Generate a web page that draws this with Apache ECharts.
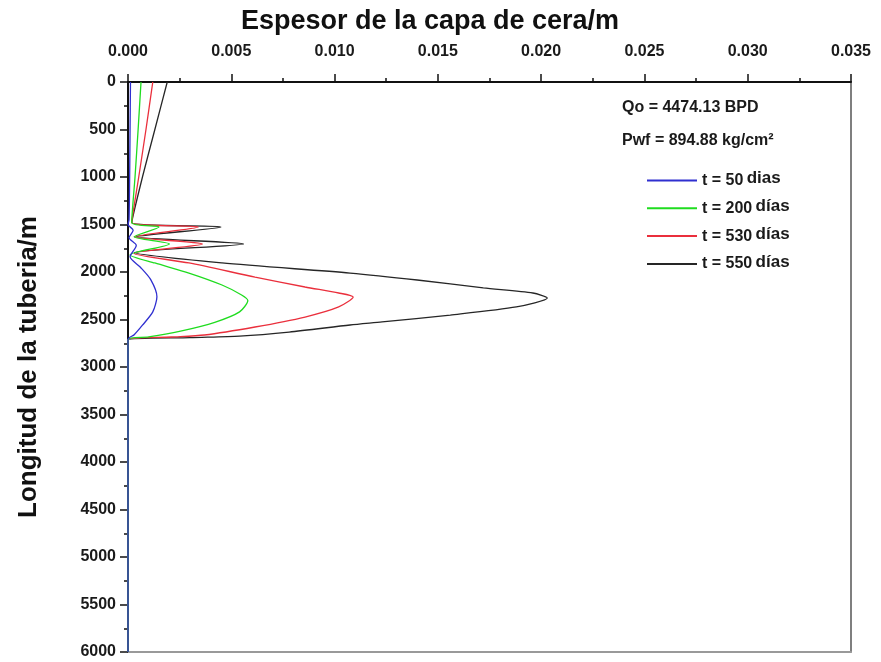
<!DOCTYPE html>
<html>
<head>
<meta charset="utf-8">
<script src="https://cdn.jsdelivr.net/npm/echarts@6/dist/echarts.min.js"></script>
<style>
html,body{margin:0;padding:0;background:#fff;}
#chart{width:881px;height:662px;}
</style>
</head>
<body>
<div id="chart"></div>
<script>
// ---- data (x = wax layer thickness in m, y = pipe length in m) ----
const seriesNames = ['t = 50', 't = 200', 't = 530', 't = 550'];
const unitNames = ['dias', 'días', 'días', 'días'];

const depth50 = [0, 500, 1000, 1450, 1500, 1560, 1640, 1720, 1840, 1950, 2080, 2260, 2420, 2560, 2660, 2710, 3000, 4000, 5000, 6000];
const thick50 = [0.00012, 0.0001, 0.00008, 0.00005, 0, 0.00025, 0.00005, 0.0004, 0.0001, 0.0006, 0.0011, 0.0014, 0.0012, 0.0007, 0.0003, 0, 0, 0, 0, 0];

const depth200 = [0, 500, 1000, 1480, 1526, 1630, 1705, 1820, 1905, 2011, 2137, 2242, 2300, 2420, 2530, 2620, 2684, 2710, 6000];
const thick200 = [0.00063, 0.00049, 0.00034, 0.00018, 0.0015, 0.0003, 0.002, 0.0001, 0.0013, 0.00295, 0.00455, 0.0055, 0.0058, 0.0054, 0.0042, 0.0026, 0.001, 0, 0];

const depth530 = [0, 500, 1000, 1480, 1526, 1630, 1705, 1805, 1905, 2053, 2158, 2221, 2263, 2368, 2474, 2579, 2663, 2684, 2710, 6000];
const thick530 = [0.0012, 0.00087, 0.00052, 0.00018, 0.0034, 0.0003, 0.0036, 0.0003, 0.00295, 0.00615, 0.00857, 0.0102, 0.0109, 0.0102, 0.00857, 0.00615, 0.0037, 0.0021, 0, 0];

const depth550 = [0, 500, 1000, 1480, 1526, 1630, 1705, 1795, 1905, 2011, 2084, 2168, 2221, 2274, 2368, 2453, 2526, 2558, 2632, 2674, 2690, 2716, 6000];
const thick550 = [0.0019, 0.0013, 0.0007, 0.00018, 0.0045, 0.0004, 0.0056, 0.0003, 0.00455, 0.01075, 0.014, 0.0172, 0.0196, 0.0203, 0.0188, 0.0156, 0.0123, 0.01075, 0.0078, 0.0054, 0.003, 0, 0];

const xTicks = ['0.000', '0.005', '0.010', '0.015', '0.020', '0.025', '0.030', '0.035'];
const yTicks = [0, 500, 1000, 1500, 2000, 2500, 3000, 3500, 4000, 4500, 5000, 5500, 6000];

const infoLines = ['Qo = 4474.13 BPD', 'Pwf = 894.88 kg/cm²'];

// ---- build ----
const FONT = 'Arial, "Liberation Sans", sans-serif';
function pairs(xs, ys) { return xs.map((x, i) => [x, ys[i]]); }
const allDepth = [depth50, depth200, depth530, depth550];
const allThick = [thick50, thick200, thick530, thick550];
const colors = ['#2f2fd0', '#1fdc1f', '#ea2f3c', '#262626'];
const zs = [6, 5, 4, 3];

const chart = echarts.init(document.getElementById('chart'));
const option = {
  backgroundColor: '#ffffff',
  animation: false,
  title: {
    text: 'Espesor de la capa de cera/m',
    left: 425, top: 3, textAlign: 'center',
    textStyle: { fontFamily: FONT, fontWeight: 'bold', fontSize: 27, color: '#111' }
  },
  grid: { left: 128, right: 30, top: 82, bottom: 10, containLabel: false },
  legend: {
    data: seriesNames,
    orient: 'vertical',
    left: 646, top: 170,
    itemWidth: 50, itemHeight: 14, itemGap: 9.3,
    padding: 0,
    itemStyle: { opacity: 0 },
    formatter: function (name) {
      const i = seriesNames.indexOf(name);
      return '{a|' + name + '} {b|' + unitNames[i] + '}';
    },
    textStyle: {
      fontFamily: FONT, color: '#1a1a1a',
      rich: {
        a: { fontFamily: FONT, fontWeight: 'bold', fontSize: 16, color: '#1a1a1a' },
        b: { fontFamily: FONT, fontWeight: 'bold', fontSize: 17, color: '#1a1a1a', padding: [0, 0, 4, 0] }
      }
    }
  },
  graphic: [
    { type: 'text', left: 622, top: 100, style: { text: infoLines[0], font: 'bold 16px ' + FONT, fill: '#1a1a1a' } },
    { type: 'text', left: 622, top: 133, style: { text: infoLines[1], font: 'bold 16px ' + FONT, fill: '#1a1a1a' } }
  ],
  xAxis: [
    {
      type: 'value', position: 'top', min: 0, max: 0.035, interval: 0.005,
      axisLine: { show: true, onZero: false, lineStyle: { color: '#111', width: 2 } },
      axisTick: { show: true, inside: false, length: 8, lineStyle: { color: '#111', width: 1.5 } },
      minorTick: { show: true, splitNumber: 2, length: 4, lineStyle: { color: '#111', width: 1.5 } },
      splitLine: { show: false },
      axisLabel: {
        margin: 22, fontFamily: FONT, fontWeight: 'bold', fontSize: 16, color: '#1a1a1a',
        formatter: function (v) { return xTicks[Math.round(v / 0.005)]; }
      }
    },
    {
      type: 'value', position: 'bottom', min: 0, max: 0.035,
      axisLine: { show: true, onZero: false, lineStyle: { color: '#999', width: 2 } },
      axisTick: { show: false }, axisLabel: { show: false }, splitLine: { show: false }
    }
  ],
  yAxis: [
    {
      type: 'value', inverse: true, min: 0, max: 6000, interval: 500,
      name: 'Longitud de la tuberia/m', nameLocation: 'middle', nameGap: 86, nameRotate: 90,
      nameTextStyle: { fontFamily: FONT, fontWeight: 'bold', fontSize: 26, color: '#111' },
      axisLine: { show: true, onZero: false, lineStyle: { color: '#111', width: 2 } },
      axisTick: { show: true, inside: false, length: 8, lineStyle: { color: '#111', width: 1.5 } },
      minorTick: { show: true, splitNumber: 2, length: 4, lineStyle: { color: '#111', width: 1.5 } },
      splitLine: { show: false },
      axisLabel: {
        margin: 12, fontFamily: FONT, fontWeight: 'bold', fontSize: 16, color: '#1a1a1a',
        formatter: function (v) { return String(yTicks[Math.round(v / 500)]); }
      }
    },
    {
      type: 'value', position: 'right', inverse: true, min: 0, max: 6000,
      axisLine: { show: true, onZero: false, lineStyle: { color: '#555', width: 1.5 } },
      axisTick: { show: false }, axisLabel: { show: false }, splitLine: { show: false }
    }
  ],
  series: seriesNames.map((n, i) => ({
    name: n,
    type: 'line',
    xAxisIndex: 0, yAxisIndex: 0,
    data: pairs(allThick[i], allDepth[i]),
    symbol: 'none',
    smooth: 0.25,
    clip: false,
    z: zs[i],
    lineStyle: { color: colors[i], width: 1.3 },
    itemStyle: { color: colors[i] }
  }))
};
chart.setOption(option);
</script>
</body>
</html>
